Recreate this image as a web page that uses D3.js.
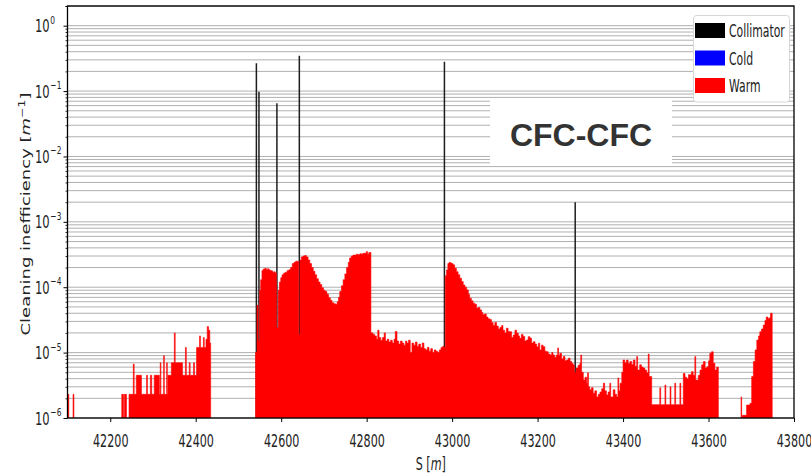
<!DOCTYPE html>
<html><head><meta charset="utf-8">
<script src="https://cdn.jsdelivr.net/npm/d3@7"></script>
<style>body{margin:0;background:#fff}svg{display:block}</style>
</head><body>
<svg id="c" width="811" height="476"></svg>
<script>
// ---------------- data ----------------
const xDomain = [42100, 43800];
const yDomain = [1e-6, 2];
const xTicks = [42200, 42400, 42600, 42800, 43000, 43200, 43400, 43600, 43800];
const yDecades = [-6, -5, -4, -3, -2, -1, 0];
const legendLabels = ["Collimator", "Cold", "Warm"];
const legendColors = ["#000000", "#0000ff", "#ff0000"];
const annotation = "CFC-CFC";

// collimator losses (position s [m], value)
const collimatorS = [42542, 42548, 42590, 42642.5, 42982, 43288];
const collimatorV = [0.266, 0.098, 0.065, 0.348, 0.282, 2.0e-3];

// cold losses: none visible
const coldBins = [];

// warm losses: [bin start s, value]; bin runs to the next entry; null = gap
const warmA = [[42101, 2.3e-6], [42103, null], [42113, 2.3e-6], [42115, null]];
const warmB = [
  [42227, 2.3e-6], [42231, null], [42233, 2.3e-6], [42238, null],
  [42244, 2.3e-6], [42254, 6.7e-6], [42256, 2.3e-6], [42261, 4.5e-6], [42273, 2.3e-6],
  [42285, 4.5e-6], [42287, 2.3e-6], [42294, 4.5e-6], [42297, 2.3e-6], [42303, 4.5e-6],
  [42315, 2.3e-6], [42317, 7.0e-6], [42318.5, 2.3e-6], [42325, 9.0e-6], [42326.5, 2.3e-6],
  [42332, 7.0e-6], [42333.5, 2.3e-6], [42335, 4.5e-6], [42343, 7.0e-6], [42350, 2.0e-5],
  [42352, 7.0e-6], [42369, 4.5e-6], [42376, 1.2e-5], [42378, 4.5e-6], [42385, 7.0e-6],
  [42387, 4.5e-6], [42395, 7.0e-6], [42397, 4.5e-6], [42402, 1.2e-5], [42409, 1.8e-5],
  [42411, 1.2e-5], [42418, 1.7e-5], [42420, 1.2e-5], [42424, 1.6e-5], [42427, 2.5e-5],
  [42430, 2.2e-5], [42433, 1.4e-5], [42435, null]
];
const warmC = [
  [42540, 1.0e-5], [42543.5, 5.3e-5], [42546, 1.5e-5], [42549.5, 9.0e-5], [42552, 1.3e-4],
  [42555, 1.8e-4], [42558, 1.9e-4], [42562, 1.95e-4], [42565, 1.85e-4], [42568, 1.92e-4],
  [42571, 1.85e-4], [42574, 1.8e-4], [42577, 1.78e-4], [42580, 1.7e-4], [42583, 1.72e-4],
  [42586, 1.65e-4], [42589, 2.4e-5], [42593, 9.0e-5], [42596, 1.2e-4], [42599, 1.4e-4],
  [42602, 1.55e-4], [42606, 1.65e-4], [42610, 1.7e-4], [42614, 1.8e-4], [42618, 1.85e-4],
  [42622, 2.0e-4], [42626, 2.3e-4], [42630, 2.4e-4], [42634, 2.5e-4], [42638, 2.5e-4],
  [42641, 1.9e-5], [42644, 2.6e-4], [42647, 2.9e-4], [42651, 3.0e-4], [42655, 3.05e-4],
  [42659, 2.9e-4], [42663, 2.6e-4], [42667, 2.3e-4], [42671, 2.0e-4], [42675, 1.75e-4],
  [42679, 1.55e-4], [42683, 1.35e-4], [42687, 1.2e-4], [42691, 1.1e-4], [42695, 9.8e-5],
  [42699, 9.0e-5], [42703, 8.6e-5], [42707, 7.8e-5], [42711, 6.9e-5], [42715, 6.3e-5],
  [42719, 5.8e-5], [42723, 5.6e-5], [42727, 5.5e-5], [42731, 6.0e-5], [42734, 7.0e-5],
  [42737, 8.6e-5], [42741, 1.05e-4], [42745, 1.3e-4], [42749, 1.6e-4], [42753, 2.0e-4],
  [42757, 2.4e-4], [42760, 2.8e-4], [42764, 3.0e-4], [42768, 3.1e-4], [42772, 3.1e-4],
  [42776, 3.2e-4], [42780, 3.15e-4], [42784, 3.25e-4], [42788, 3.2e-4], [42791, 3.3e-4],
  [42795, 3.3e-4], [42799, 3.5e-4], [42802, 3.2e-4], [42805, 3.4e-4],
  [42810, 2.0e-5], [42815, 1.9e-5], [42819, 1.8e-5], [42823, 1.6e-5], [42826, 2.2e-5],
  [42829, 1.7e-5], [42833, 1.55e-5], [42837, 1.7e-5], [42841, 2.0e-5], [42844, 1.5e-5],
  [42848, 1.6e-5], [42852, 1.45e-5], [42856, 1.55e-5], [42860, 1.4e-5], [42864, 1.6e-5],
  [42867, 2.1e-5], [42871, 1.5e-5], [42875, 1.35e-5], [42879, 1.5e-5], [42883, 1.4e-5],
  [42887, 1.3e-5], [42891, 1.5e-5], [42894, 1.4e-5], [42898, 1.55e-5], [42902, 1.0e-5],
  [42906, 1.4e-5], [42910, 1.3e-5], [42914, 1.45e-5], [42918, 1.25e-5], [42922, 1.35e-5],
  [42926, 1.2e-5], [42930, 1.4e-5], [42934, 1.15e-5], [42938, 1.1e-5], [42942, 1.2e-5],
  [42946, 1.05e-5], [42950, 1.15e-5], [42954, 1.0e-5], [42958, 1.1e-5], [42962, 1.05e-5],
  [42966, 1.0e-5], [42970, 1.1e-5], [42974, 1.2e-5], [42978, 1.25e-5], [42981, 1.2e-5],
  [42984, 1.5e-4], [42987, 1.84e-4], [42990, 2.3e-4], [42993, 2.4e-4], [42996, 2.35e-4],
  [42999, 2.3e-4], [43002, 2.2e-4], [43006, 1.95e-4], [43010, 1.73e-4], [43014, 1.55e-4],
  [43018, 1.37e-4], [43022, 1.22e-4], [43026, 1.08e-4], [43030, 1.0e-4], [43034, 9.1e-5],
  [43038, 7.8e-5], [43041, 6.8e-5], [43045, 6.2e-5], [43049, 5.7e-5], [43053, 5.5e-5],
  [43057, 4.8e-5], [43061, 4.9e-5], [43065, 4.5e-5], [43069, 4.1e-5], [43072, 3.8e-5],
  [43076, 3.9e-5], [43080, 3.5e-5], [43084, 3.3e-5], [43088, 3.2e-5], [43092, 2.9e-5],
  [43096, 2.6e-5], [43100, 2.9e-5], [43104, 2.55e-5], [43108, 2.3e-5], [43112, 2.44e-5],
  [43116, 2.6e-5], [43119, 2.2e-5], [43123, 2.0e-5], [43127, 2.36e-5], [43131, 2.1e-5],
  [43135, 2.09e-5], [43139, 1.7e-5], [43143, 1.86e-5], [43147, 2.2e-5], [43151, 1.98e-5],
  [43155, 1.8e-5], [43158, 1.66e-5], [43162, 1.9e-5], [43166, 1.76e-5], [43170, 1.5e-5],
  [43174, 1.56e-5], [43178, 1.75e-5], [43182, 1.66e-5], [43186, 1.4e-5], [43190, 1.47e-5],
  [43194, 1.35e-5], [43198, 1.23e-5], [43202, 1.39e-5], [43205, 1.1e-5], [43209, 1.3e-5],
  [43213, 1.23e-5], [43217, 1.05e-5], [43221, 1.03e-5], [43225, 9.5e-6], [43229, 9.2e-6],
  [43233, 1.0e-5], [43236, 9.2e-6], [43240, 8.5e-6], [43244, 9.2e-6], [43247, 1.18e-5],
  [43249, 9.0e-6], [43252, 9.8e-6], [43256, 8.0e-6], [43260, 8.7e-6], [43264, 7.5e-6],
  [43268, 7.7e-6], [43272, 8.2e-6], [43276, 7.3e-6], [43280, 6.8e-6], [43283, 6.5e-6],
  [43286, 4.9e-6], [43290, 5.8e-6], [43295, 6.4e-6], [43299, 6.9e-6], [43301, 9.2e-6],
  [43303, 5.0e-6], [43307, 3.8e-6], [43311, 4.2e-6], [43315, 3.4e-6], [43317, 4.9e-6],
  [43319, 3.0e-6], [43322, 2.7e-6], [43326, 2.9e-6], [43330, 2.4e-6], [43334, 2.6e-6],
  [43338, 2.1e-6], [43342, 2.3e-6], [43346, 2.5e-6], [43350, 2.8e-6], [43354, 3.4e-6],
  [43357, 2.6e-6], [43361, 2.25e-6], [43365, 2.5e-6], [43369, 3.4e-6], [43371, 2.1e-6],
  [43377, 2.7e-6], [43381, 2.3e-6], [43385, 2.1e-6], [43388, 4.1e-6], [43390, 2.6e-6],
  [43393, 3.4e-6], [43397, 5.0e-6], [43400, 7.7e-6], [43404, 7.0e-6], [43408, 7.7e-6],
  [43412, 6.8e-6], [43416, 7.3e-6], [43420, 6.6e-6], [43424, 7.7e-6], [43428, 6.2e-6],
  [43432, 8.7e-6], [43434, 5.4e-6], [43439, 6.5e-6], [43443, 6.0e-6], [43447, 5.8e-6],
  [43451, 5.4e-6], [43455, 4.9e-6], [43459, 9.5e-6], [43461, 4.3e-6], [43467, 1.6e-6],
  [43486, 2.9e-6], [43488, 1.6e-6], [43498, 3.2e-6], [43500, 1.6e-6], [43510, 3.0e-6],
  [43512, 1.6e-6], [43521, 3.4e-6], [43523, 1.6e-6], [43533, 3.4e-6], [43535, 1.6e-6],
  [43541, 4.8e-6], [43545, 4.2e-6], [43549, 4.0e-6], [43553, 4.6e-6], [43560, 5.1e-6],
  [43564, 4.5e-6], [43568, 8.7e-6], [43570, 3.8e-6], [43576, 4.5e-6], [43580, 5.4e-6],
  [43584, 6.5e-6], [43588, 7.3e-6], [43592, 5.8e-6], [43596, 6.1e-6], [43600, 7.5e-6],
  [43603, 9.8e-6], [43607, 1.03e-5], [43611, 6.9e-6], [43615, 5.4e-6], [43619, 6.0e-6],
  [43623, null]
];
const warmE = [
  [43676, 2.1e-6], [43677.5, null], [43679, 1.1e-6], [43689, 1.58e-6], [43697, 1.68e-6],
  [43701, 4.3e-6], [43705, 7.3e-6], [43709, 1.1e-5], [43713, 1.56e-5], [43717, 1.8e-5],
  [43720, 2.09e-5], [43724, 2.3e-5], [43728, 2.64e-5], [43732, 3.1e-5], [43735, 3.5e-5],
  [43739, 3.3e-5], [43742, 3.4e-5], [43745, 4.0e-5], [43749, null]
];
const warmSegments = [warmA, warmB, warmC, warmE];

// ---------------- layout ----------------
const plot = {left: 67.5, right: 794, top: 6, bottom: 418};
const SX = 0.62;          // horizontal squeeze of the reference picture
const FONT = "'DejaVu Sans', sans-serif";

const svg = d3.select("#c");
const x = d3.scaleLinear().domain(xDomain).range([plot.left, plot.right]);
const y = d3.scaleLog().domain(yDomain).range([plot.bottom, plot.top]);

svg.append("defs").append("clipPath").attr("id", "clip")
  .append("rect").attr("x", plot.left).attr("y", plot.top)
  .attr("width", plot.right - plot.left).attr("height", plot.bottom - plot.top);

// grid values at every major and minor log tick
const gridVals = [];
yDecades.forEach(k => { for (let m = 1; m <= 9; m++) { const v = m * Math.pow(10, k); if (v <= yDomain[1] * 1.0001) gridVals.push(v); } });
gridVals.push(2);

svg.append("g").selectAll("line").data(gridVals).join("line")
  .attr("x1", plot.left).attr("x2", plot.right)
  .attr("y1", d => y(d)).attr("y2", d => y(d))
  .attr("stroke", "#b0b0b0").attr("stroke-width", 1);

const marks = svg.append("g").attr("clip-path", "url(#clip)");

// collimator bars (drawn first, warm bars on top)
marks.append("g").selectAll("line").data(collimatorS.map((s, i) => ({s, v: collimatorV[i]}))).join("line")
  .attr("x1", d => x(d.s)).attr("x2", d => x(d.s))
  .attr("y1", d => y(d.v)).attr("y2", plot.bottom)
  .attr("stroke", "#1e1e1e").attr("stroke-width", 1.5);

// split each warm segment into contiguous runs; each run is a step area
function runsOf(seg) {
  const runs = [];
  let cur = [];
  for (let i = 0; i < seg.length; i++) {
    const [s, v] = seg[i];
    if (v == null) {
      if (cur.length) { cur.push([s, cur[cur.length - 1][1]]); runs.push(cur); cur = []; }
    } else cur.push([s, v]);
  }
  if (cur.length) runs.push(cur);
  return runs;
}
const warmRuns = warmSegments.flatMap(runsOf);

const stepArea = d3.area()
  .curve(d3.curveStepAfter)
  .x(d => x(d[0]))
  .y0(plot.bottom)
  .y1(d => y(d[1]));

marks.append("g").selectAll("path").data(warmRuns).join("path")
  .attr("d", stepArea)
  .attr("fill", "#ff0000")
  .attr("stroke", "#ff0000").attr("stroke-width", 0.6);

marks.append("g").selectAll("path").data(coldBins).join("path")
  .attr("fill", "#0000ff");

// ---------------- axes ----------------
const xAxis = svg.append("g").attr("transform", `translate(0,${plot.bottom})`)
  .call(d3.axisBottom(x).tickValues(xTicks).tickSize(4).tickSizeOuter(0).tickFormat(d3.format("d")));
xAxis.select(".domain").remove();
xAxis.selectAll(".tick line").attr("stroke", "#000");
xAxis.selectAll(".tick text")
  .attr("y", 0).attr("dy", 0).attr("x", 0)
  .attr("transform", `translate(0,29) scale(${SX},1)`)
  .attr("font-family", FONT).attr("font-size", 18).attr("fill", "#222");

const minorVals = gridVals.filter(v => Math.abs(Math.log10(v) - Math.round(Math.log10(v))) > 1e-6);
const yMinor = svg.append("g").attr("transform", `translate(${plot.left},0)`)
  .call(d3.axisLeft(y).tickValues(minorVals).tickSize(2).tickFormat(() => ""));
yMinor.select(".domain").remove();
yMinor.selectAll(".tick line").attr("stroke", "#000").attr("stroke-width", 0.8);

const yAxis = svg.append("g").attr("transform", `translate(${plot.left},0)`)
  .call(d3.axisLeft(y).tickValues(yDecades.map(k => Math.pow(10, k))).tickSize(4).tickFormat(() => ""));
yAxis.select(".domain").remove();
yAxis.selectAll(".tick line").attr("stroke", "#000");
yAxis.selectAll(".tick text").remove();
yAxis.selectAll(".tick").each(function(d) {
  const k = Math.round(Math.log10(d));
  const t = d3.select(this).append("text")
    .attr("transform", `translate(-32.5,6) scale(0.68,1)`)
    .attr("text-anchor", "start").attr("font-family", FONT).attr("font-size", 17).attr("fill", "#222");
  t.append("tspan").text("10");
  t.append("tspan").attr("dx", 1).attr("dy", -8.5).attr("font-size", 11).text(k < 0 ? "\u2212" + (-k) : String(k));
});

// axis labels
const xl = svg.append("text")
  .attr("transform", `translate(${(plot.left + plot.right) / 2},470) scale(${SX},1)`)
  .attr("text-anchor", "middle").attr("font-family", FONT).attr("font-size", 18).attr("fill", "#222");
xl.append("tspan").text("S [");
xl.append("tspan").attr("font-style", "italic").text("m");
xl.append("tspan").text("]");

const yl = svg.append("text")
  .attr("transform", `translate(30,${(plot.top + plot.bottom) / 2 + 2}) scale(0.7,1) rotate(-90)`)
  .attr("text-anchor", "middle").attr("font-family", FONT).attr("font-size", 18).attr("fill", "#222");
yl.append("tspan").text("Cleaning inefficiency [");
yl.append("tspan").attr("font-style", "italic").text("m");
yl.append("tspan").attr("dy", -7).attr("font-size", 12.5).text("\u22121");
yl.append("tspan").attr("dy", 7).text("]");

// ---------------- legend ----------------
const lg = svg.append("g");
lg.append("rect").attr("x", 693.5).attr("y", 15.5).attr("width", 96).attr("height", 86.5)
  .attr("rx", 3).attr("fill", "#fff").attr("stroke", "#d6d6d6").attr("stroke-width", 1);
const items = lg.selectAll("g.item").data(legendLabels).join("g").attr("class", "item")
  .attr("transform", (d, i) => `translate(0,${23 + i * 27.5})`);
items.append("rect").attr("x", 695).attr("y", 0).attr("width", 30).attr("height", 15)
  .attr("fill", (d, i) => legendColors[i]);
items.append("text").attr("transform", `translate(729,14) scale(${SX},1)`)
  .attr("font-family", FONT).attr("font-size", 17.5).attr("fill", "#222").text(d => d);

// ---------------- annotation ----------------
svg.append("rect").attr("x", 490).attr("y", 98).attr("width", 182).attr("height", 67).attr("fill", "#fff");
svg.append("text").attr("x", 581).attr("y", 146).attr("text-anchor", "middle")
  .attr("font-family", "'Liberation Sans', Arial, sans-serif").attr("font-weight", "bold")
  .attr("font-size", 32).attr("fill", "#333").text(annotation);

// frame
svg.append("rect").attr("x", plot.left).attr("y", plot.top)
  .attr("width", plot.right - plot.left).attr("height", plot.bottom - plot.top)
  .attr("fill", "none").attr("stroke", "#000").attr("stroke-width", 1.3);
</script>
</body></html>
